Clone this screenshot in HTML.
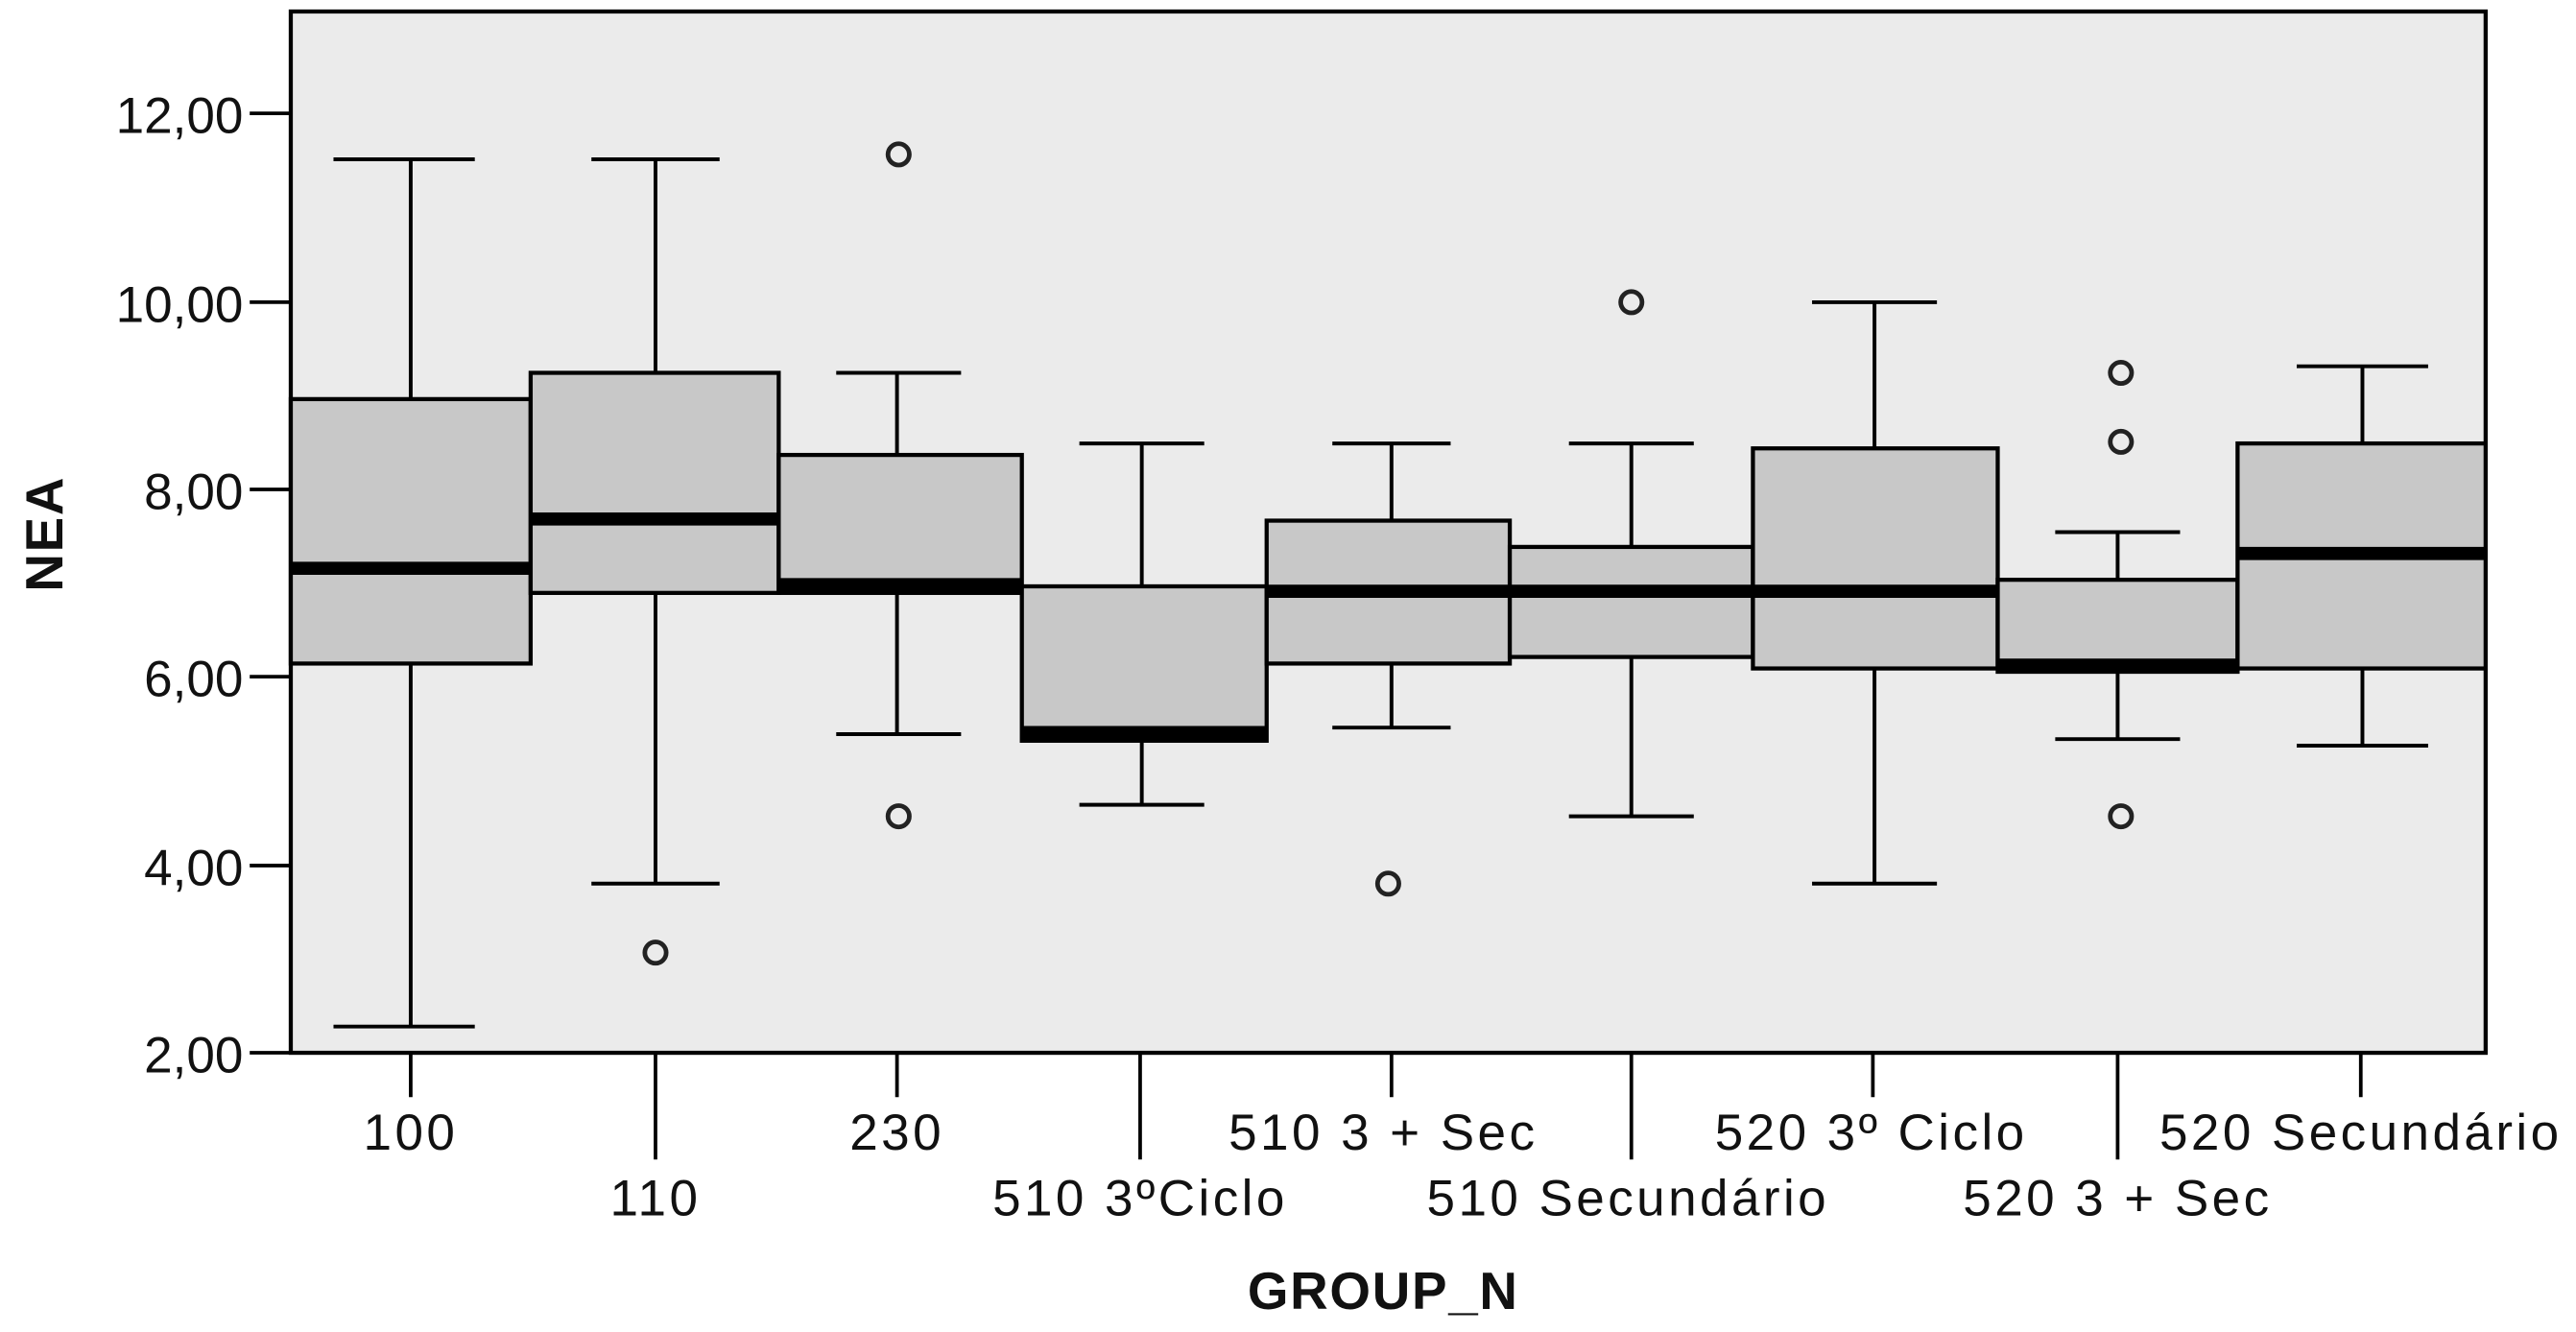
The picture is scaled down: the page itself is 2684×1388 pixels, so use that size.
<!DOCTYPE html>
<html><head><meta charset="utf-8"><style>
html,body{margin:0;padding:0;background:#fff;}
svg{display:block;}
text{font-family:"Liberation Sans",sans-serif;fill:#111;}
</style></head><body>
<svg width="2684" height="1388" viewBox="0 0 1568 811" preserveAspectRatio="none">
<rect x="177" y="7" width="1336" height="634" fill="#ebebeb" stroke="#000" stroke-width="2.5"/>
<g stroke="#000" stroke-width="2.2">
<line x1="152" y1="69" x2="177" y2="69"/><line x1="152" y1="184" x2="177" y2="184"/>
<line x1="152" y1="298" x2="177" y2="298"/><line x1="152" y1="412" x2="177" y2="412"/>
<line x1="152" y1="527" x2="177" y2="527"/><line x1="152" y1="641" x2="177" y2="641"/>
<line x1="250" y1="641" x2="250" y2="668"/><line x1="399" y1="641" x2="399" y2="706"/>
<line x1="546" y1="641" x2="546" y2="668"/><line x1="694" y1="641" x2="694" y2="706"/>
<line x1="847" y1="641" x2="847" y2="668"/><line x1="993" y1="641" x2="993" y2="706"/>
<line x1="1140" y1="641" x2="1140" y2="668"/><line x1="1289" y1="641" x2="1289" y2="706"/>
<line x1="1437" y1="641" x2="1437" y2="668"/>
</g>
<g font-size="31" text-anchor="end">
<text x="148" y="81">12,00</text><text x="148" y="196">10,00</text>
<text x="148" y="310">8,00</text><text x="148" y="424">6,00</text>
<text x="148" y="539">4,00</text><text x="148" y="653">2,00</text>
</g>
<g font-size="31" letter-spacing="2" text-anchor="middle">
<text x="250" y="700">100</text><text x="399" y="740">110</text>
<text x="546" y="700">230</text><text x="694" y="740">510 3ºCiclo</text>
<text x="842" y="700">510 3 + Sec</text><text x="991" y="740">510 Secundário</text>
<text x="1139" y="700">520 3º Ciclo</text><text x="1289" y="740">520 3 + Sec</text>
<text x="1437" y="700">520 Secundário</text>
</g>
<text x="842" y="797" font-size="32" font-weight="bold" letter-spacing="1" text-anchor="middle">GROUP_N</text>
<text transform="translate(38,325) rotate(-90)" font-size="32" font-weight="bold" letter-spacing="1" text-anchor="middle">NEA</text>
<g stroke="#000" stroke-width="2.3" fill="none">
<path d="M250 97V243M250 404V625M203 97H289M203 625H289"/>
<path d="M399 97V227M399 361V538M360 97H438M360 538H438"/>
<path d="M546 227V277M546 361V447M509 227H585M509 447H585"/>
<path d="M695 270V357M695 451V490M657 270H733M657 490H733"/>
<path d="M847 270V317M847 404V443M811 270H883M811 443H883"/>
<path d="M993 270V333M993 400V497M955 270H1031M955 497H1031"/>
<path d="M1141 184V273M1141 407V538M1103 184H1179M1103 538H1179"/>
<path d="M1289 324V353M1289 409V450M1251 324H1327M1251 450H1327"/>
<path d="M1438 223V270M1438 407V454M1398 223H1478M1398 454H1478"/>
</g>
<g stroke="#000" stroke-width="2.5" fill="#c8c8c8">
<rect x="177" y="243" width="146" height="161"/>
<rect x="323" y="227" width="151" height="134"/>
<rect x="474" y="277" width="148" height="84"/>
<rect x="622" y="357" width="149" height="94"/>
<rect x="771" y="317" width="148" height="87"/>
<rect x="919" y="333" width="148" height="67"/>
<rect x="1067" y="273" width="149" height="134"/>
<rect x="1216" y="353" width="146" height="56"/>
<rect x="1362" y="270" width="151" height="137"/>
</g>
<g stroke="#000" stroke-width="8">
<line x1="177" y1="346" x2="323" y2="346"/>
<line x1="323" y1="316" x2="474" y2="316"/>
<line x1="474" y1="356" x2="622" y2="356"/>
<line x1="622" y1="446" x2="771" y2="446"/>
<line x1="771" y1="360" x2="919" y2="360"/>
<line x1="919" y1="360" x2="1067" y2="360"/>
<line x1="1067" y1="360" x2="1216" y2="360"/>
<line x1="1216" y1="405" x2="1362" y2="405"/>
<line x1="1362" y1="337" x2="1513" y2="337"/>
</g>
<g stroke="#222" stroke-width="2.8" fill="none">
<circle cx="399" cy="580" r="6.5"/>
<circle cx="547" cy="94" r="6.5"/><circle cx="547" cy="497" r="6.5"/>
<circle cx="845" cy="538" r="6.5"/>
<circle cx="993" cy="184" r="6.5"/>
<circle cx="1291" cy="227" r="6.5"/><circle cx="1291" cy="269" r="6.5"/><circle cx="1291" cy="497" r="6.5"/>
</g>
</svg>
</body></html>
